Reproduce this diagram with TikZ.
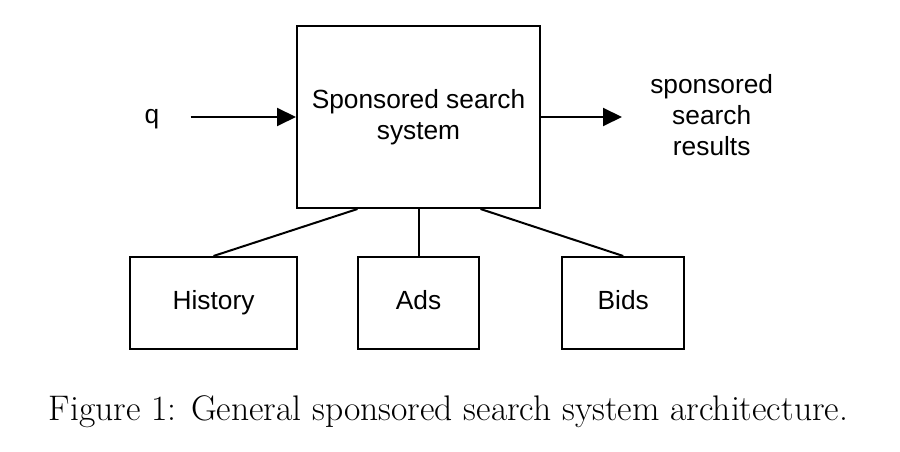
\documentclass[tikz,border=0pt]{standalone}
\usepackage{fontspec}
\setsansfont{Liberation Sans}
\usetikzlibrary{arrows.meta,calc}
\begin{document}
\begin{tikzpicture}[x=1bp,y=-1bp,
  lbl/.style={font=\sffamily\fontsize{26.4}{31.5}\selectfont, inner sep=0pt},
  frame/.style={draw, line width=2bp, lbl},
  box/.style={frame, text height=19bp, text depth=5.6bp},
  conn/.style={line width=2bp},
  arr/.style={line width=2bp, -{Triangle[length=19bp,width=18bp]}}
]
\useasboundingbox (0,0) rectangle (900,452);
\node[frame, minimum width=243bp, minimum height=182bp, align=center] (main) at (418.5,117) {Sponsored search\\system};
\node[box, minimum width=167bp, minimum height=92bp] (hist) at (213.5,303) {History};
\node[box, minimum width=121.6bp, minimum height=92bp] (ads) at (418.5,303) {Ads};
\node[box, minimum width=121.7bp, minimum height=92bp] (bids) at (623.2,303) {Bids};
\node[lbl, anchor=base] (q) at (152,123.5) {q};
\node[lbl, align=center] (res) at (711.7,115) {sponsored\\search\\results};
\coordinate (qstart) at (190.7,117);
\coordinate (rend) at (622,117);
\draw[arr] (qstart) -- (main.west);
\draw[arr] (main.east) -- (rend);
\draw[conn] ($(main.south)+(-61,0)$) -- (hist.north);
\draw[conn] (main.south) -- (ads.north);
\draw[conn] ($(main.south)+(62,0)$) -- (bids.north);
\node[font=\fontsize{35.7}{42}\selectfont, anchor=base, inner sep=0pt] (cap) at (448.5,420.7) {Figure 1: General sponsored search system architecture.};
\end{tikzpicture}
\end{document}
